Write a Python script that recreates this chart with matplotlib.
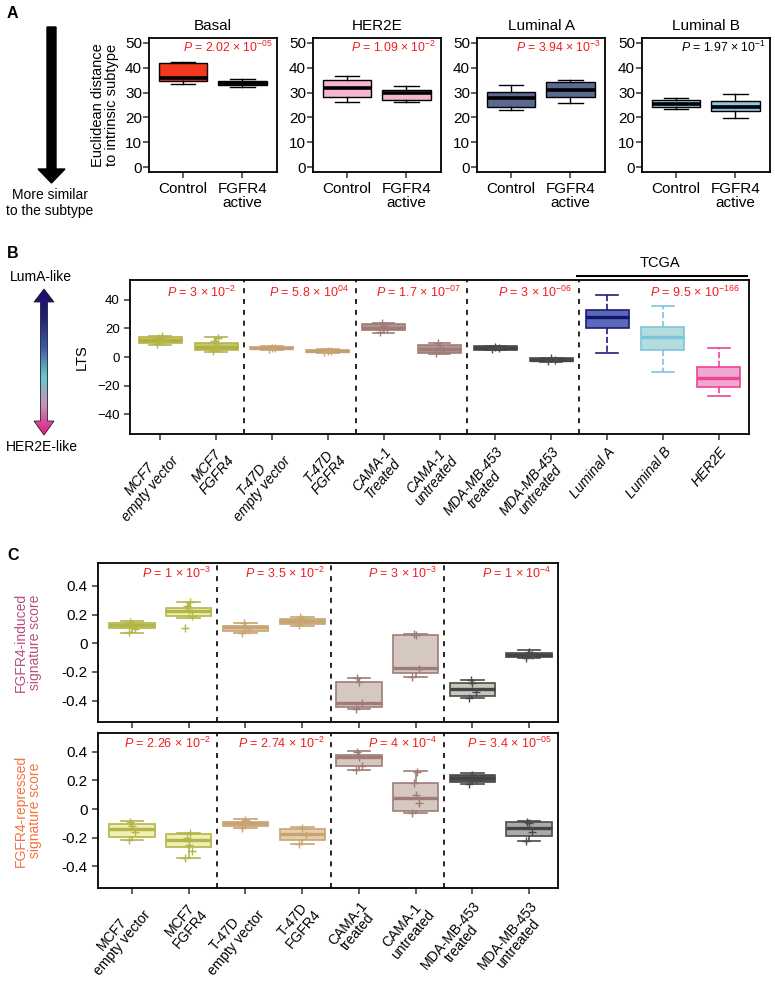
import numpy as np
import matplotlib.pyplot as plt
import matplotlib.transforms as mtransforms
from matplotlib.patches import Polygon, FancyArrow
from matplotlib.colors import LinearSegmentedColormap

plt.rcParams["font.family"] = ["Liberation Sans", "DejaVu Sans"]
plt.rcParams["mathtext.fontset"] = "custom"
plt.rcParams["mathtext.rm"] = "Liberation Sans"
plt.rcParams["mathtext.it"] = "Liberation Sans:italic"

# ---------------- data: panel A ----------------
A_subtypes = ["Basal", "HER2E", "Luminal A", "Luminal B"]
A_groups = ["Control", "FGFR4\nactive"]
A_whislo = [[33.3, 32.3], [26.2, 26.4], [22.9, 25.8], [23.3, 19.8]]
A_q1 = [[34.7, 33.2], [28.2, 26.9], [24.2, 28.2], [24.0, 22.5]]
A_med = [[36.0, 33.8], [32.0, 30.0], [28.0, 30.9], [25.3, 24.2]]
A_q3 = [[41.9, 34.5], [35.0, 30.9], [30.2, 34.3], [26.9, 26.6]]
A_whishi = [[42.3, 35.4], [36.7, 32.5], [33.0, 35.0], [28.0, 29.3]]
A_p_mant = ["2.02", "1.09", "3.94", "1.97"]
A_p_exp = ["-05", "-2", "-3", "-1"]

# ---------------- data: panel B ----------------
B_labels = ["MCF7\nempty vector", "MCF7\nFGFR4", "T-47D\nempty vector",
            "T-47D\nFGFR4", "CAMA-1\nTreated", "CAMA-1\nuntreated",
            "MDA-MB-453\ntreated", "MDA-MB-453\nuntreated",
            "Luminal A", "Luminal B", "HER2E"]
B_whislo = [8.5, 3.5, 5.0, 3.0, 17.0, 2.0, 5.0, -3.2, 2.6, -10.2, -27.7]
B_q1 = [9.5, 4.9, 5.4, 3.3, 18.8, 3.0, 5.1, -3.0, 20.2, 4.9, -20.7]
B_med = [12.0, 7.0, 6.2, 4.0, 20.5, 5.5, 6.2, -1.8, 27.9, 13.7, -14.8]
B_q3 = [14.1, 10.0, 7.2, 5.0, 23.0, 8.4, 7.4, -0.7, 32.8, 21.1, -7.2]
B_whishi = [15.0, 13.7, 7.5, 5.3, 24.0, 10.0, 7.7, -0.5, 43.2, 35.7, 6.5]
B_points = [[9.0, 11.5, 12.5, 13.5, 14.5], [4.0, 6.5, 8.0, 11.5, 13.5],
            [5.5, 6.0, 6.5], [3.5, 4.0, 4.5], [17.5, 20.0, 21.5, 23.5],
            [3.0, 5.0, 6.5, 9.5], [5.8, 6.4, 7.0], [-2.5, -1.8, -1.0]]
B_p_mant = ["3", "5.8", "1.7", "3", "9.5"]
B_p_exp = ["-2", "04", "-07", "-06", "-166"]

# ---------------- data: panel C ----------------
C_labels = ["MCF7\nempty vector", "MCF7\nFGFR4", "T-47D\nempty vector",
            "T-47D\nFGFR4", "CAMA-1\ntreated", "CAMA-1\nuntreated",
            "MDA-MB-453\ntreated", "MDA-MB-453\nuntreated"]
C_ind_whislo = [0.072, 0.174, 0.07, 0.12, -0.46, -0.234, -0.38, -0.105]
C_ind_q1 = [0.104, 0.188, 0.086, 0.135, -0.443, -0.211, -0.369, -0.095]
C_ind_med = [0.125, 0.225, 0.11, 0.155, -0.42, -0.176, -0.322, -0.08]
C_ind_q3 = [0.141, 0.246, 0.123, 0.17, -0.27, 0.056, -0.28, -0.065]
C_ind_whishi = [0.155, 0.285, 0.14, 0.185, -0.245, 0.062, -0.26, -0.05]
C_ind_points = [[0.08, 0.10, 0.13, 0.15], [0.106, 0.19, 0.23, 0.26, 0.285],
                [0.07, 0.09, 0.12, 0.14], [0.125, 0.15, 0.17, 0.185],
                [-0.46, -0.42, -0.27, -0.245], [-0.234, -0.18, 0.055, 0.062],
                [-0.38, -0.34, -0.28, -0.26], [-0.10, -0.08, -0.06]]
C_ind_p_mant = ["1", "3.5", "3", "1"]
C_ind_p_exp = ["-3", "-2", "-3", "-4"]

C_rep_whislo = [-0.218, -0.34, -0.13, -0.241, 0.274, -0.03, 0.175, -0.22]
C_rep_q1 = [-0.192, -0.267, -0.119, -0.213, 0.302, -0.014, 0.192, -0.189]
C_rep_med = [-0.14, -0.218, -0.10, -0.173, 0.363, 0.075, 0.215, -0.131]
C_rep_q3 = [-0.103, -0.173, -0.089, -0.14, 0.379, 0.185, 0.234, -0.093]
C_rep_whishi = [-0.084, -0.164, -0.07, -0.124, 0.407, 0.262, 0.25, -0.085]
C_rep_points = [[-0.218, -0.16, -0.12, -0.09], [-0.34, -0.29, -0.25, -0.20, -0.17],
                [-0.13, -0.10, -0.075], [-0.24, -0.18, -0.13],
                [0.274, 0.30, 0.36, 0.40], [-0.03, 0.04, 0.10, 0.18, 0.26],
                [0.175, 0.20, 0.24], [-0.22, -0.16, -0.10, -0.09]]
C_rep_p_mant = ["2.26", "2.74", "4", "3.4"]
C_rep_p_exp = ["-2", "-2", "-4", "-05"]

C_ticks = [0.4, 0.2, 0, -0.2, -0.4]
C_ticklabels = ["0.4", "0.2", "0", "-0.2", "-0.4"]

# ---------------- styles ----------------
RED = "#f01e1e"
A_fill = [["#f2381e", "#3a3a3a"], ["#f5b4cf", "#f5b4cf"],
          ["#5a6892", "#5a6892"], ["#8ec6e2", "#8ec6e2"]]
OLIVE, TAN, MAUVE, DARK = "#b4b44a", "#c8a474", "#a07c78", "#4a4a4a"
B_edge = [OLIVE, OLIVE, TAN, TAN, MAUVE, MAUVE, DARK, DARK,
          "#1c1c78", "#7cc4e0", "#ee4499"]
B_fill = ["#c8c86a", "#c8c86a", "#d4b48a", "#d4b48a", "#b4968e", "#b4968e",
          "#555555", "#555555", "#5a6ab8", "#b4dcdc", "#f0a8cc"]
B_medc = ["#b0b040", "#b0b040", "#c4a070", "#c4a070", "#a07c78", "#a07c78",
          "#444444", "#444444", "#14146a", "#7cc4e0", "#ee4499"]
C_edge = [OLIVE, OLIVE, TAN, TAN, MAUVE, MAUVE, DARK, DARK]
C_ind_fill = ["#eef0b4", "#eef0b4", "#e6d0aa", "#e6d0aa", "#d4c8c0", "#d4c8c0",
              "#cbc6bd", "#777777"]
C_rep_fill = ["#eef0b4", "#eef0b4", "#e6d0aa", "#e6d0aa", "#d4c8c0", "#d4c8c0",
              "#555555", "#aaaaaa"]
C_medc = ["#b4b44a", "#b4b44a", "#c8a474", "#c8a474", "#a07c78", "#a07c78",
          "#444444", "#444444"]
JITTER = [-0.06, 0.06, 0.0, -0.03, 0.03]

W, H = 775, 982


def rect(left, top, right, bottom):
    return [left / W, 1 - bottom / H, (right - left) / W, (bottom - top) / H]


def make_stats(lo, q1, med, q3, hi):
    return [dict(whislo=a, q1=b, med=c, q3=d, whishi=e, fliers=[])
            for a, b, c, d, e in zip(lo, q1, med, q3, hi)]


def draw_boxes(ax, st, positions, width, edges, fills, meds,
               lw=1.0, medlw=2.2, wls="-"):
    bp = ax.bxp(st, positions=positions, widths=width, patch_artist=True,
                showfliers=False, manage_ticks=False)
    for i, box in enumerate(bp["boxes"]):
        box.set_facecolor(fills[i])
        box.set_edgecolor(edges[i])
        box.set_linewidth(lw)
        bp["medians"][i].set_color(meds[i])
        bp["medians"][i].set_linewidth(medlw)
        bp["medians"][i].set_solid_capstyle("butt")
        for k in (2 * i, 2 * i + 1):
            bp["whiskers"][k].set_color(edges[i])
            bp["whiskers"][k].set_linewidth(lw)
            bp["whiskers"][k].set_linestyle(wls if isinstance(wls, str) else wls[i])
            bp["caps"][k].set_color(edges[i])
            bp["caps"][k].set_linewidth(lw)
    return bp


def draw_points(ax, points, colors):
    for i, vals in enumerate(points):
        xs = [i + 1 + JITTER[j % len(JITTER)] for j in range(len(vals))]
        ax.plot(xs, vals, linestyle="none", marker="+", ms=6, mew=1.0,
                color=colors[i], zorder=4)


def ptext(mant, exp):
    return f"$P$ = {mant} × 10$^{{{exp}}}$"


def style_axes(ax, lw=1.3):
    for s in ax.spines.values():
        s.set_linewidth(lw)
    ax.tick_params(direction="out", length=4, width=1.1, color="#333333")


fig = plt.figure(figsize=(W / 100, H / 100), dpi=100)

# ---------------- panel A ----------------
A_left = [149, 313, 477, 642]
for k, name in enumerate(A_subtypes):
    ax = fig.add_axes(rect(A_left[k], 38, A_left[k] + 128, 172))
    st = make_stats(A_whislo[k], A_q1[k], A_med[k], A_q3[k], A_whishi[k])
    draw_boxes(ax, st, [1, 2], 0.82, ["black", "black"], A_fill[k],
               ["black", "black"], lw=1.0, medlw=2.6)
    ax.set_xlim(0.43, 2.58)
    ax.set_ylim(-2, 52)
    ax.set_yticks([0, 10, 20, 30, 40, 50])
    ax.set_xticks([1, 2])
    ax.set_xticklabels(A_groups, fontsize=11, linespacing=1.0)
    ax.tick_params(axis="y", labelsize=11, pad=1)
    ax.set_title(name, fontsize=11, pad=6)
    style_axes(ax)
    ax.text(0.965, 0.93, ptext(A_p_mant[k], A_p_exp[k]), transform=ax.transAxes,
            ha="right", va="center", fontsize=8.8,
            color="black" if k == 3 else RED)
    if k == 0:
        ax.set_ylabel("Euclidean distance\nto intrinsic subtype", fontsize=10.5,
                      linespacing=1.05, labelpad=4)

# ---------------- panel B ----------------
axb = fig.add_axes(rect(130, 280, 749, 434))
stb = make_stats(B_whislo, B_q1, B_med, B_q3, B_whishi)
pos_b = list(range(1, len(B_labels) + 1))
draw_boxes(axb, stb, pos_b, 0.77, B_edge, B_fill, B_medc, lw=1.2, medlw=2.4,
           wls=["-"] * 8 + ["--"] * 3)
draw_points(axb, B_points, B_edge)
axb.set_xlim(0.46, 11.54)
axb.set_ylim(-54, 54)
axb.set_yticks([40, 20, 0, -20, -40])
axb.set_xticks(pos_b)
axb.set_xticklabels(B_labels, rotation=50, ha="right", va="top",
                    rotation_mode="anchor", style="italic", fontsize=10,
                    multialignment="center", linespacing=1.0)
axb.tick_params(axis="y", labelsize=9.5)
axb.set_ylabel("LTS", fontsize=10.5, labelpad=6)
style_axes(axb)
for xd in [2.5, 4.5, 6.5, 8.5]:
    axb.axvline(xd, color="black", lw=1.2, ls=(0, (3, 3.5)))
tb = mtransforms.blended_transform_factory(axb.transData, axb.transAxes)
for g, xr in enumerate([2.5, 4.5, 6.5, 8.5, 11.5]):
    axb.text(xr - 0.13, 0.922, ptext(B_p_mant[g], B_p_exp[g]), transform=tb,
             ha="right", va="center", fontsize=9, color=RED)
axb.plot([8.46, 11.5], [1.026, 1.026], color="black", lw=1.5,
         transform=tb, clip_on=False)
axb.text(9.94, 1.11, "TCGA", transform=tb, ha="center", va="center",
         fontsize=10.5)

# ---------------- panel C ----------------
pos_c = list(range(1, len(C_labels) + 1))
c_sets = [
    (563, 722, (C_ind_whislo, C_ind_q1, C_ind_med, C_ind_q3, C_ind_whishi),
     C_ind_points, C_ind_fill, C_ind_p_mant, C_ind_p_exp,
     "FGFR4-induced\nsignature score", "#b5507e", (-0.55, 0.56)),
    (733, 888, (C_rep_whislo, C_rep_q1, C_rep_med, C_rep_q3, C_rep_whishi),
     C_rep_points, C_rep_fill, C_rep_p_mant, C_rep_p_exp,
     "FGFR4-repressed\nsignature score", "#f5733f", (-0.55, 0.53)),
]
for idx, (top, bot, q, pts, fills, pm, pe, ylab, ycol, ylim) in enumerate(c_sets):
    axc = fig.add_axes(rect(98, top, 558, bot))
    draw_boxes(axc, make_stats(*q), pos_c, 0.8, C_edge, fills, C_medc,
               lw=1.2, medlw=2.4)
    draw_points(axc, pts, C_edge)
    axc.set_xlim(0.4, 8.51)
    axc.set_ylim(*ylim)
    axc.set_yticks(C_ticks)
    axc.set_yticklabels(C_ticklabels, fontsize=11)
    axc.set_xticks(pos_c)
    if idx == 0:
        axc.set_xticklabels([])
    else:
        axc.set_xticklabels(C_labels, rotation=50, ha="right", va="top",
                            rotation_mode="anchor", fontsize=10,
                            multialignment="center", linespacing=1.0)
    axc.set_ylabel(ylab, fontsize=10, color=ycol, linespacing=1.05, labelpad=14)
    style_axes(axc)
    for xd in [2.5, 4.5, 6.5]:
        axc.axvline(xd, color="black", lw=1.2, ls=(0, (3, 3.5)))
    tc = mtransforms.blended_transform_factory(axc.transData, axc.transAxes)
    for g, xr in enumerate([2.5, 4.5, 6.5, 8.51]):
        axc.text(xr - 0.11, 0.935, ptext(pm[g], pe[g]), transform=tc,
                 ha="right", va="center", fontsize=9, color=RED)

# ---------------- overlay: panel letters and arrows ----------------
ax0 = fig.add_axes([0, 0, 1, 1])
ax0.patch.set_alpha(0)
ax0.axis("off")
for letter, yl in [("A", 13), ("B", 253), ("C", 555)]:
    ax0.text(7, yl, letter, fontsize=11.5, fontweight="bold", ha="left", va="center")

ax0.add_patch(FancyArrow(51.5, 27, 0, 156, width=9, head_width=27,
                         head_length=14, length_includes_head=True,
                         color="black"))
ax0.text(50, 203, "More similar\nto the subtype", ha="center", va="center",
         fontsize=10, linespacing=1.15)

cx, sw, hw = 44, 3.5, 10
t_tip, t_base, b_base, b_tip = 289, 302, 421, 435
arrow_pts = [(cx, t_tip), (cx + hw, t_base), (cx + sw, t_base), (cx + sw, b_base),
             (cx + hw, b_base), (cx, b_tip), (cx - hw, b_base), (cx - sw, b_base),
             (cx - sw, t_base), (cx - hw, t_base)]
poly = Polygon(arrow_pts, closed=True, facecolor="none", edgecolor="#222222",
               lw=0.6, transform=ax0.transData)
cmap = LinearSegmentedColormap.from_list(
    "luma_her2", ["#1c0a6e", "#22207e", "#3a5aa8", "#6ac8d0", "#c890b8", "#e0188a"])
grad = np.linspace(0, 1, 256).reshape(-1, 1)
im = ax0.imshow(grad, cmap=cmap, extent=[cx - hw, cx + hw, b_tip, t_tip],
                aspect="auto", origin="upper")
ax0.add_patch(poly)
im.set_clip_path(poly)
ax0.text(41, 277, "LumA-like", ha="center", va="center", fontsize=10)
ax0.text(42, 447, "HER2E-like", ha="center", va="center", fontsize=10)
ax0.set_xlim(0, W)
ax0.set_ylim(H, 0)

fig.savefig("out.png", dpi=100)
